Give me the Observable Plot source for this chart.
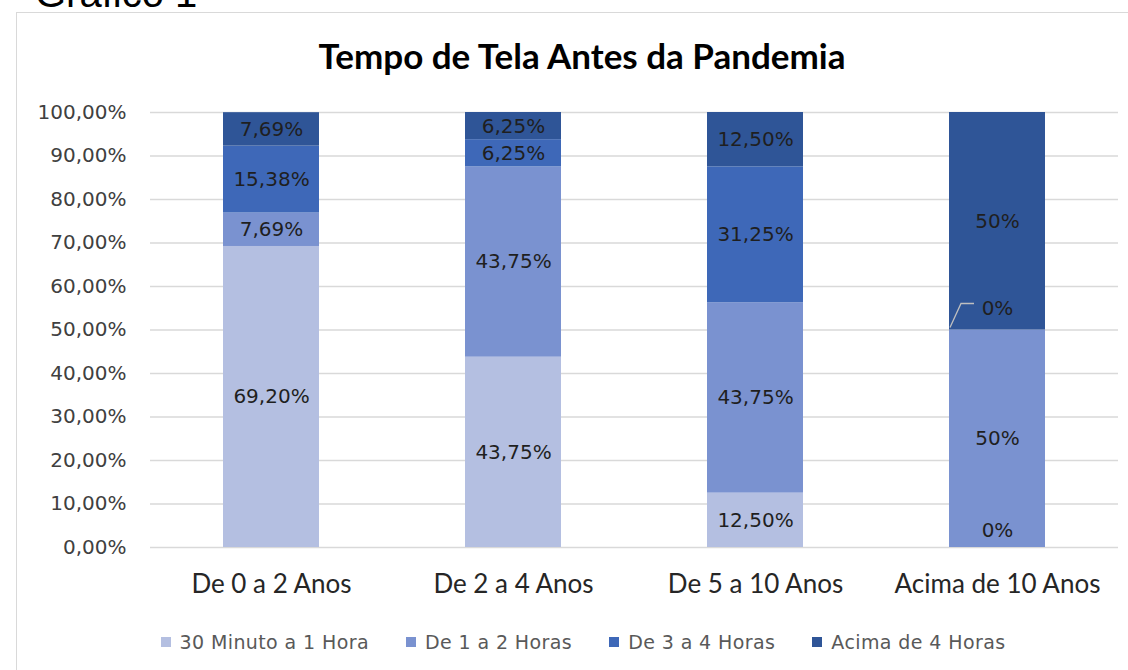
<!DOCTYPE html>
<html>
<head>
<meta charset="utf-8">
<script src="https://cdn.jsdelivr.net/npm/d3@7"></script>
<script src="https://cdn.jsdelivr.net/npm/@observablehq/plot@0.6"></script>
<style>
  html, body { margin: 0; padding: 0; background: #fff; }
  body { width: 1128px; height: 670px; overflow: hidden; position: relative; }
  #fig { position: absolute; left: 35px; top: -27px; font-family: "Liberation Sans", Arial, sans-serif; font-size: 40px; line-height: 40px; color: #000; }
  #frame { position: absolute; left: 16px; top: 12px; width: 1200px; height: 700px; border: 1px solid #d9d9d9; box-sizing: border-box; }
  #title { position: absolute; left: 0; top: 38px; width: 1164px; text-align: center; font-family: Lato, sans-serif; font-weight: bold; font-size: 35px; line-height: 35px; color: #000; }
  #chart { position: absolute; left: 0; top: 95px; }
  #legend { position: absolute; left: 0; top: 630px; width: 1166px; height: 24px; display: flex; justify-content: center; align-items: center; gap: 37px; font-family: "DejaVu Sans", sans-serif; font-size: 19px; letter-spacing: 0.4px; color: #595959; }
  .item { display: flex; align-items: center; gap: 9px; white-space: nowrap; }
  .sw { width: 10px; height: 10px; display: inline-block; }
</style>
</head>
<body>
<div id="fig">Gráfico 1</div>
<div id="frame"></div>
<div id="title">Tempo de Tela Antes da Pandemia</div>
<div id="chart"></div>
<div id="legend"></div>
<script>
// ---- Data ----
const categories = ["De 0 a 2 Anos", "De 2 a 4 Anos", "De 5 a 10 Anos", "Acima de 10 Anos"];
const seriesNames = ["30 Minuto a 1 Hora", "De 1 a 2 Horas", "De 3 a 4 Horas", "Acima de 4 Horas"];
const s30minA1h = [69.20, 43.75, 12.50, 0];
const s1a2h = [7.69, 43.75, 43.75, 50];
const s3a4h = [15.38, 6.25, 31.25, 0];
const sAcima4h = [7.69, 6.25, 12.50, 50];
const yTicks = [0, 10, 20, 30, 40, 50, 60, 70, 80, 90, 100];

// ---- Styling ----
const palette = ["#b4bfe1", "#7a92d0", "#3e68b8", "#2f5597"];
const seriesValues = [s30minA1h, s1a2h, s3a4h, sAcima4h];

const data = [];
categories.forEach((c, i) => {
  seriesNames.forEach((s, j) => {
    data.push({cat: c, series: s, value: seriesValues[j][i]});
  });
});

const fmtLabel = v => Number.isInteger(v) ? `${v}%` : v.toFixed(2).replace(".", ",") + "%";
const fmtTick = v => v.toFixed(2).replace(".", ",") + "%";

const stackOpts = {x: "cat", y: "value", z: "series", fill: "series", order: seriesNames};

// leader line for the zero label that sits on top of another segment
const leader = (index, scales) => {
  const g = d3.create("svg:g");
  data.forEach(d => {
    const j = seriesNames.indexOf(d.series);
    if (d.value === 0 && j > 0) {
      const i = categories.indexOf(d.cat);
      let base = 0;
      for (let k = 0; k < j; k++) base += seriesValues[k][i];
      const x0 = scales.x(d.cat);
      const y0 = scales.y(base);
      g.append("path")
        .attr("d", `M${x0 + 1},${y0 - 2}L${x0 + 12},${y0 - 26}L${x0 + 25},${y0 - 26}`)
        .attr("fill", "none")
        .attr("stroke", "#bfbfbf")
        .attr("stroke-width", 1.3);
    }
  });
  return g.node();
};

const chart = Plot.plot({
  width: 1128,
  height: 515,
  marginTop: 17,
  marginBottom: 63,
  marginLeft: 150,
  marginRight: 10,
  style: {fontFamily: "DejaVu Sans, sans-serif", background: "transparent", overflow: "visible"},
  x: {domain: categories, paddingInner: 0.603, paddingOuter: 0.3015, label: null},
  y: {domain: [0, 100], label: null},
  color: {domain: seriesNames, range: palette},
  marks: [
    Plot.ruleY(yTicks, {stroke: "#d9d9d9", strokeWidth: 1.3}),
    Plot.axisY({ticks: yTicks, tickSize: 0, tickPadding: 24, tickFormat: fmtTick, fontSize: 20, fill: "#404040", label: null}),
    Plot.axisX({tickSize: 0, tickPadding: 27, fontSize: 26, fontFamily: "Lato, sans-serif", fill: "#262626", label: null}),
    Plot.barY(data, Plot.stackY({...stackOpts})),
    Plot.text(data, Plot.stackY({...stackOpts, text: d => d.value > 0 ? fmtLabel(d.value) : null, fontSize: 20, fill: "#1f1f1f"})),
    Plot.text(data, Plot.stackY({...stackOpts, text: d => (d.value === 0 && d.series === seriesNames[0]) ? fmtLabel(d.value) : null, fontSize: 20, fill: "#1f1f1f", dy: -17})),
    Plot.text(data, Plot.stackY({...stackOpts, text: d => (d.value === 0 && d.series !== seriesNames[0]) ? fmtLabel(d.value) : null, fontSize: 20, fill: "#1f1f1f", dy: -21})),
    leader
  ]
});
document.getElementById("chart").appendChild(chart);

// ---- Legend ----
const legend = document.getElementById("legend");
seriesNames.forEach((s, j) => {
  const it = document.createElement("div");
  it.className = "item";
  const sw = document.createElement("span");
  sw.className = "sw";
  sw.style.background = palette[j];
  const t = document.createElement("span");
  t.textContent = s;
  it.appendChild(sw);
  it.appendChild(t);
  legend.appendChild(it);
});
</script>
</body>
</html>
